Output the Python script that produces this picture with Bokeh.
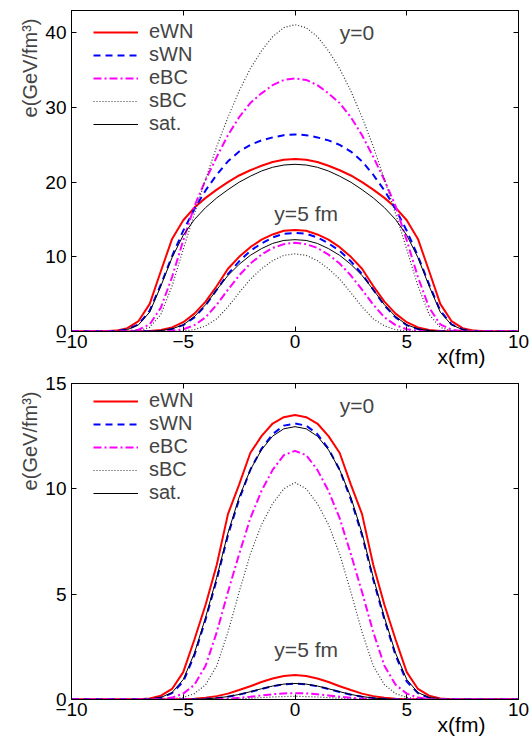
import math
from bokeh.plotting import figure
from bokeh.layouts import column
from bokeh.models import Range1d, FixedTicker, LinearAxis, Legend, LegendItem, Label, Title
from bokeh.embed import file_html
from bokeh.resources import INLINE

FONT = "Liberation Sans"

# x positions (fm)
x = [-10.0, -9.5, -9.0, -8.5, -8.0, -7.5, -7.0, -6.5, -6.0, -5.5, -5.0, -4.5, -4.0, -3.5, -3.0,
     -2.5, -2.0, -1.5, -1.0, -0.5, 0.0, 0.5, 1.0, 1.5, 2.0, 2.5, 3.0, 3.5, 4.0, 4.5, 5.0, 5.5,
     6.0, 6.5, 7.0, 7.5, 8.0, 8.5, 9.0, 9.5, 10.0]

labels = ["eWN", "sWN", "eBC", "sBC", "sat."]

# ---- top panel, y = 0
top_y0_eWN = [0, 0, 0, 0.03, 0.12, 0.45, 1.4, 3.7, 8.1, 12.4, 14.9, 16.6, 17.9, 19.0, 20.0, 20.9, 21.6, 22.2, 22.7, 23.0,
              23.1, 23.0, 22.7, 22.2, 21.6, 20.9, 20.0, 19.0, 17.9, 16.6, 14.9, 12.4, 8.1, 3.7, 1.4, 0.45, 0.12, 0.03, 0, 0, 0]
top_y0_sWN = [0, 0, 0, 0.02, 0.07, 0.28, 0.95, 2.8, 6.3, 10.1, 13.5, 16.4, 18.9, 21.0, 22.8, 24.1, 25.0, 25.6, 26.0, 26.3,
              26.4, 26.3, 26.0, 25.6, 25.0, 24.1, 22.8, 21.0, 18.9, 16.4, 13.5, 10.1, 6.3, 2.8, 0.95, 0.28, 0.07, 0.02, 0, 0, 0]
top_y0_eBC = [0, 0, 0, 0, 0.01, 0.06, 0.25, 0.95, 3.2, 7.3, 12.2, 16.8, 20.3, 23.4, 26.3, 28.7, 30.6, 31.9, 33.0, 33.7,
              33.9, 33.7, 33.0, 31.9, 30.6, 28.7, 26.3, 23.4, 20.3, 16.8, 12.2, 7.3, 3.2, 0.95, 0.25, 0.06, 0.01, 0, 0, 0, 0]
top_y0_sBC = [0, 0, 0, 0, 0, 0.02, 0.1, 0.55, 2.3, 6.1, 11.0, 15.8, 20.4, 24.8, 28.7, 32.2, 35.2, 37.6, 39.5, 40.7,
              41.1, 40.7, 39.5, 37.6, 35.2, 32.2, 28.7, 24.8, 20.4, 15.8, 11.0, 6.1, 2.3, 0.55, 0.1, 0.02, 0, 0, 0, 0, 0]
top_y0_sat = [0, 0, 0, 0.01, 0.05, 0.25, 0.9, 2.6, 6.1, 9.9, 12.9, 15.0, 16.6, 17.9, 19.0, 20.0, 20.8, 21.5, 22.0, 22.3,
              22.4, 22.3, 22.0, 21.5, 20.8, 20.0, 19.0, 17.9, 16.6, 15.0, 12.9, 9.9, 6.1, 2.6, 0.9, 0.25, 0.05, 0.01, 0, 0, 0]

# ---- top panel, y = 5 fm
top_y5_eWN = [0, 0, 0, 0, 0, 0, 0.02, 0.06, 0.2, 0.55, 1.25, 2.4, 4.0, 6.1, 8.4, 10.0, 11.3, 12.3, 13.0, 13.5,
              13.6, 13.5, 13.0, 12.3, 11.3, 10.0, 8.4, 6.1, 4.0, 2.4, 1.25, 0.55, 0.2, 0.06, 0.02, 0, 0, 0, 0, 0, 0]
top_y5_sWN = [0, 0, 0, 0, 0, 0, 0.01, 0.03, 0.1, 0.32, 0.85, 1.9, 3.5, 5.6, 7.7, 9.4, 10.8, 11.8, 12.6, 13.1,
              13.2, 13.1, 12.6, 11.8, 10.8, 9.4, 7.7, 5.6, 3.5, 1.9, 0.85, 0.32, 0.1, 0.03, 0.01, 0, 0, 0, 0, 0, 0]
top_y5_eBC = [0, 0, 0, 0, 0, 0, 0, 0, 0.03, 0.1, 0.3, 0.85, 1.9, 3.6, 5.6, 7.5, 9.1, 10.3, 11.2, 11.7,
              11.9, 11.7, 11.2, 10.3, 9.1, 7.5, 5.6, 3.6, 1.9, 0.85, 0.3, 0.1, 0.03, 0, 0, 0, 0, 0, 0, 0, 0]
top_y5_sBC = [0, 0, 0, 0, 0, 0, 0, 0, 0, 0.02, 0.07, 0.25, 0.75, 1.7, 3.3, 5.2, 7.0, 8.4, 9.5, 10.2,
              10.4, 10.2, 9.5, 8.4, 7.0, 5.2, 3.3, 1.7, 0.75, 0.25, 0.07, 0.02, 0, 0, 0, 0, 0, 0, 0, 0, 0]
top_y5_sat = [0, 0, 0, 0, 0, 0, 0.01, 0.04, 0.12, 0.35, 0.9, 2.0, 3.6, 5.6, 7.5, 9.0, 10.2, 11.1, 11.8, 12.2,
              12.3, 12.2, 11.8, 11.1, 10.2, 9.0, 7.5, 5.6, 3.6, 2.0, 0.9, 0.35, 0.12, 0.04, 0.01, 0, 0, 0, 0, 0, 0]

# ---- bottom panel, y = 0
bot_y0_eWN = [0, 0, 0, 0, 0, 0, 0.01, 0.05, 0.18, 0.5, 1.3, 2.85, 4.5, 6.4, 8.8, 10.2, 11.7, 12.5, 13.1, 13.4,
              13.5, 13.4, 13.1, 12.5, 11.7, 10.2, 8.8, 6.4, 4.5, 2.85, 1.3, 0.5, 0.18, 0.05, 0.01, 0, 0, 0, 0, 0, 0]
bot_y0_sWN = [0, 0, 0, 0, 0, 0, 0, 0.02, 0.08, 0.3, 0.85, 2.1, 3.8, 5.7, 7.8, 9.5, 10.9, 11.9, 12.6, 13.0,
              13.1, 13.0, 12.6, 11.9, 10.9, 9.5, 7.8, 5.7, 3.8, 2.1, 0.85, 0.3, 0.08, 0.02, 0, 0, 0, 0, 0, 0, 0]
bot_y0_eBC = [0, 0, 0, 0, 0, 0, 0, 0, 0.03, 0.09, 0.28, 0.7, 1.6, 3.2, 5.1, 6.9, 8.6, 9.9, 10.9, 11.6,
              11.8, 11.6, 10.9, 9.9, 8.6, 6.9, 5.1, 3.2, 1.6, 0.7, 0.28, 0.09, 0.03, 0, 0, 0, 0, 0, 0, 0, 0]
bot_y0_sBC = [0, 0, 0, 0, 0, 0, 0, 0, 0, 0.03, 0.1, 0.28, 0.7, 1.6, 3.2, 5.1, 6.9, 8.3, 9.3, 10.0,
              10.3, 10.0, 9.3, 8.3, 6.9, 5.1, 3.2, 1.6, 0.7, 0.28, 0.1, 0.03, 0, 0, 0, 0, 0, 0, 0, 0, 0]
bot_y0_sat = [0, 0, 0, 0, 0, 0, 0, 0.03, 0.1, 0.33, 0.95, 2.2, 3.9, 5.8, 7.9, 9.6, 10.9, 11.85, 12.5, 12.85,
              12.95, 12.85, 12.5, 11.85, 10.9, 9.6, 7.9, 5.8, 3.9, 2.2, 0.95, 0.33, 0.1, 0.03, 0, 0, 0, 0, 0, 0, 0]

# ---- bottom panel, y = 5 fm
bot_y5_eWN = [0, 0, 0, 0, 0, 0, 0, 0, 0, 0.01, 0.02, 0.04, 0.08, 0.16, 0.28, 0.45, 0.63, 0.83, 1.0, 1.12,
              1.16, 1.12, 1.0, 0.83, 0.63, 0.45, 0.28, 0.16, 0.08, 0.04, 0.02, 0.01, 0, 0, 0, 0, 0, 0, 0, 0, 0]
bot_y5_sWN = [0, 0, 0, 0, 0, 0, 0, 0, 0, 0, 0, 0.01, 0.03, 0.06, 0.13, 0.23, 0.36, 0.5, 0.63, 0.72,
              0.75, 0.72, 0.63, 0.5, 0.36, 0.23, 0.13, 0.06, 0.03, 0.01, 0, 0, 0, 0, 0, 0, 0, 0, 0, 0, 0]
bot_y5_eBC = [0, 0, 0, 0, 0, 0, 0, 0, 0, 0, 0, 0, 0.01, 0.02, 0.04, 0.08, 0.13, 0.19, 0.25, 0.29,
              0.3, 0.29, 0.25, 0.19, 0.13, 0.08, 0.04, 0.02, 0.01, 0, 0, 0, 0, 0, 0, 0, 0, 0, 0, 0, 0]
bot_y5_sBC = [0, 0, 0, 0, 0, 0, 0, 0, 0, 0, 0, 0, 0, 0.005, 0.015, 0.03, 0.06, 0.09, 0.12, 0.14,
              0.15, 0.14, 0.12, 0.09, 0.06, 0.03, 0.015, 0.005, 0, 0, 0, 0, 0, 0, 0, 0, 0, 0, 0, 0, 0]
bot_y5_sat = [0, 0, 0, 0, 0, 0, 0, 0, 0, 0, 0, 0.01, 0.03, 0.07, 0.14, 0.24, 0.37, 0.51, 0.64, 0.73,
              0.76, 0.73, 0.64, 0.51, 0.37, 0.24, 0.14, 0.07, 0.03, 0.01, 0, 0, 0, 0, 0, 0, 0, 0, 0, 0, 0]

x_ticks = [-10, -5, 0, 5, 10]
top_y_ticks = [0, 10, 20, 30, 40]
bot_y_ticks = [0, 5, 10, 15]
x_title_pos = [7.45]
x_title = "x(fm)"
y_title = "e(GeV/fm\u00b3)"

STYLES = [
    dict(line_color="#ff0000", line_width=2),
    dict(line_color="#0000ff", line_width=2, line_dash="7 5"),
    dict(line_color="#ff00ff", line_width=2, line_dash="8 3 2 3"),
    dict(line_color="#333333", line_width=1.2, line_dash="1 2"),
    dict(line_color="#000000", line_width=1),
]


def mirror_axis(ticks):
    return LinearAxis(ticker=FixedTicker(ticks=ticks), major_tick_in=5, major_tick_out=0,
                      minor_tick_line_color=None, major_label_text_font_size="0px",
                      major_label_overrides={t: "" for t in ticks},
                      major_label_standoff=0, axis_line_color="black")


def make_panel(ymax, yticks, grp0, grp5, height, btop, bbot, leg_vy, lab0, lab5):
    p = figure(width=532, height=height, x_range=Range1d(-10, 10), y_range=Range1d(0, ymax),
               output_backend="svg", toolbar_location=None,
               min_border_left=71, min_border_right=14, min_border_top=btop, min_border_bottom=bbot)
    p.grid.visible = False
    p.outline_line_color = "black"
    p.outline_line_alpha = 1.0
    p.background_fill_color = "white"
    p.border_fill_color = "white"

    xa = p.xaxis[0]
    ya = p.yaxis[0]
    xa.ticker = FixedTicker(ticks=x_ticks)
    ya.ticker = FixedTicker(ticks=yticks)
    xa.major_label_overrides = {-10: "\u221210", -5: "\u22125"}
    for ax in (xa, ya):
        ax.major_tick_in = 5
        ax.major_tick_out = 0
        ax.minor_tick_line_color = None
        ax.axis_line_color = "black"
        ax.major_tick_line_color = "black"
        ax.major_label_text_font = FONT
        ax.major_label_text_font_size = "19px"
        ax.major_label_text_color = "black"
    xa.major_label_standoff = 3
    ya.major_label_standoff = 5

    # mirrored ticks (box style)
    p.add_layout(mirror_axis(x_ticks), "above")
    p.add_layout(mirror_axis(yticks), "right")

    # "x(fm)" placed to the right, just below the tick labels
    xt_ax = LinearAxis(ticker=FixedTicker(ticks=x_title_pos),
                       major_label_overrides={x_title_pos[0]: x_title},
                       major_tick_line_color=None, minor_tick_line_color=None,
                       axis_line_color=None, major_tick_in=0, major_tick_out=0,
                       major_label_standoff=-6, major_label_text_font=FONT,
                       major_label_text_font_size="21px", major_label_text_color="black")
    p.add_layout(xt_ax, "below")

    # y title near the top of the axis
    p.add_layout(Title(text=y_title, align="right", offset=8, text_font=FONT,
                       text_font_size="20px", text_font_style="normal", standoff=4), "left")

    renderers = []
    for ys, st in zip(grp0, STYLES):
        renderers.append(p.line(x, ys, **st))
    for ys, st in zip(grp5, STYLES):
        p.line(x, ys, **st)

    items = [LegendItem(label=l, renderers=[r]) for l, r in zip(labels, renderers)]
    leg = Legend(items=items, location=(22, leg_vy), label_text_font=FONT,
                 label_text_font_size="20px", glyph_width=45, glyph_height=20,
                 label_height=20, label_standoff=11, spacing=0, padding=0, margin=0,
                 border_line_color=None, background_fill_alpha=0)
    p.add_layout(leg)

    p.add_layout(Label(x=lab0[0], y=lab0[1], text="y=0", text_font=FONT, text_font_size="21px",
                       text_align="left", text_baseline="middle"))
    p.add_layout(Label(x=lab5[0], y=lab5[1], text="y=5 fm", text_font=FONT, text_font_size="21px",
                       text_align="center", text_baseline="middle"))
    return p


p1 = make_panel(43.0, top_y_ticks,
                [top_y0_eWN, top_y0_sWN, top_y0_eBC, top_y0_sBC, top_y0_sat],
                [top_y5_eWN, top_y5_sWN, top_y5_eBC, top_y5_sBC, top_y5_sat],
                373, 10, 42, 196, (2.0, 40.0), (0.5, 15.8))
p2 = make_panel(15.0, bot_y_ticks,
                [bot_y0_eWN, bot_y0_sWN, bot_y0_eBC, bot_y0_sBC, bot_y0_sat],
                [bot_y5_eWN, bot_y5_sWN, bot_y5_eBC, bot_y5_sBC, bot_y5_sat],
                365, 10, 36, 195, (2.0, 13.95), (0.5, 2.37))

layout = column(p1, p2, spacing=0)
open("out.html", "w").write(file_html(layout, INLINE))
